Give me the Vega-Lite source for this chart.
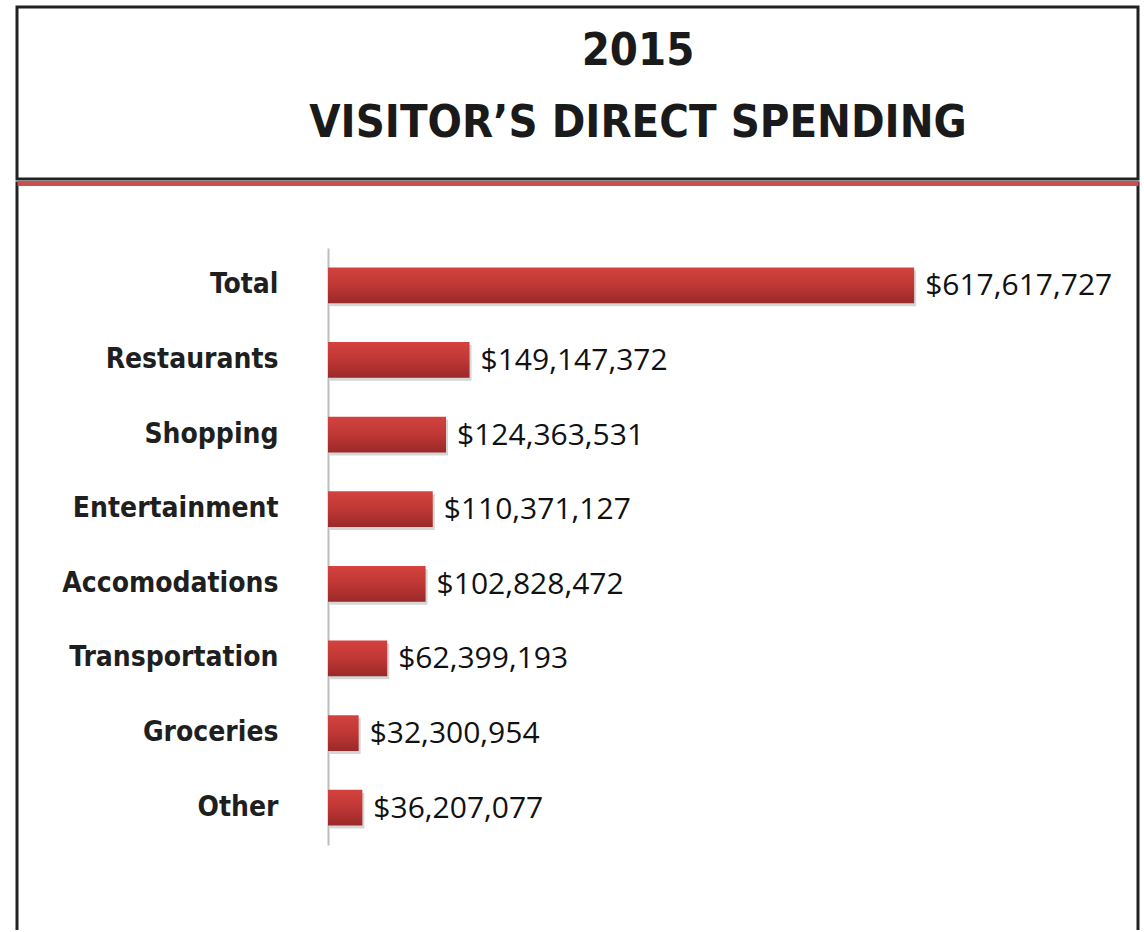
{
  "$schema": "https://vega.github.io/schema/vega-lite/v6.json",
  "padding": {"left": 15, "top": 5, "right": 0, "bottom": 0},
  "spacing": 0,
  "background": "white",
  "config": {
    "view": {"stroke": "#222222", "strokeWidth": 3},
    "concat": {"spacing": 0}
  },
  "vconcat": [
    {
      "width": 1121,
      "height": 172,
      "data": {"values": [
        {"line": "2015"},
        {"line": "VISITOR’S DIRECT SPENDING"}
      ]},
      "mark": {"type": "text", "font": "'DejaVu Sans Condensed', 'Roboto Condensed', 'Arial Narrow', Roboto, sans-serif", "fontWeight": "bold", "fontSize": 45, "color": "#1a1a1a", "align": "center", "baseline": "middle"},
      "encoding": {
        "x": {"datum": 0.554, "type": "quantitative", "scale": {"domain": [0, 1]}, "axis": null},
        "y": {"field": "line", "type": "nominal", "sort": null, "scale": {"type": "point", "range": [44, 116], "padding": 0}, "axis": null},
        "text": {"field": "line"}
      }
    },
    {
      "width": 1121,
      "height": 747,
      "view": {"stroke": "#222222", "strokeWidth": 3, "strokeDash": [1868, 1121, 747, 4000]},
      "data": {"values": [
        {"category": "Total", "amount": 617617727, "label": "$617,617,727"},
        {"category": "Restaurants", "amount": 149147372, "label": "$149,147,372"},
        {"category": "Shopping", "amount": 124363531, "label": "$124,363,531"},
        {"category": "Entertainment", "amount": 110371127, "label": "$110,371,127"},
        {"category": "Accomodations", "amount": 102828472, "label": "$102,828,472"},
        {"category": "Transportation", "amount": 62399193, "label": "$62,399,193"},
        {"category": "Groceries", "amount": 32300954, "label": "$32,300,954"},
        {"category": "Other", "amount": 36207077, "label": "$36,207,077"}
      ]},
      "encoding": {
        "y": {
          "field": "category", "type": "nominal", "sort": null,
          "scale": {"range": [65, 662], "paddingInner": 0.52, "paddingOuter": 0.26},
          "axis": {
            "orient": "left", "offset": -311, "title": null,
            "domainColor": "#bdbdbd", "domainWidth": 2, "ticks": false,
            "labelPadding": 50, "labelFont": "'DejaVu Sans Condensed', 'Roboto Condensed', 'Arial Narrow', Roboto, sans-serif", "labelFontWeight": "bold",
            "labelFontSize": 28, "labelColor": "#1f1f1f", "labelLimit": 400,
            "encode": {"labels": {"update": {"dy": {"signal": "datum.value === 'Total' ? -12 : datum.value === 'Restaurants' ? -4 : datum.value === 'Shopping' ? -8 : datum.value === 'Entertainment' ? -5 : datum.value === 'Accomodations' ? 2 : datum.value === 'Transportation' ? 2 : datum.value === 'Groceries' ? -1 : 3"}}}}
          }
        },
        "x": {
          "field": "amount", "type": "quantitative",
          "scale": {"domain": [-327700000, 853500000], "nice": false, "zero": false},
          "axis": {"orient": "top", "title": null, "labels": false, "ticks": false, "grid": false, "domainColor": "#c85050", "domainWidth": 5}
        }
      },
      "layer": [
        {
          "mark": {"type": "bar", "color": "#8a8a8a", "opacity": 0.35, "yOffset": 3, "xOffset": 2}
        },
        {
          "mark": {
            "type": "bar",
            "color": {"gradient": "linear", "x1": 0, "y1": 0, "x2": 0, "y2": 1,
              "stops": [{"offset": 0, "color": "#d3433e"}, {"offset": 0.5, "color": "#bf3735"}, {"offset": 1, "color": "#9a2929"}]}
          }
        },
        {
          "mark": {"type": "text", "align": "left", "baseline": "middle", "dx": 11, "dy": 1, "font": "Open Sans", "fontSize": 30, "color": "#111111"},
          "encoding": {"text": {"field": "label"}}
        }
      ]
    }
  ]
}
